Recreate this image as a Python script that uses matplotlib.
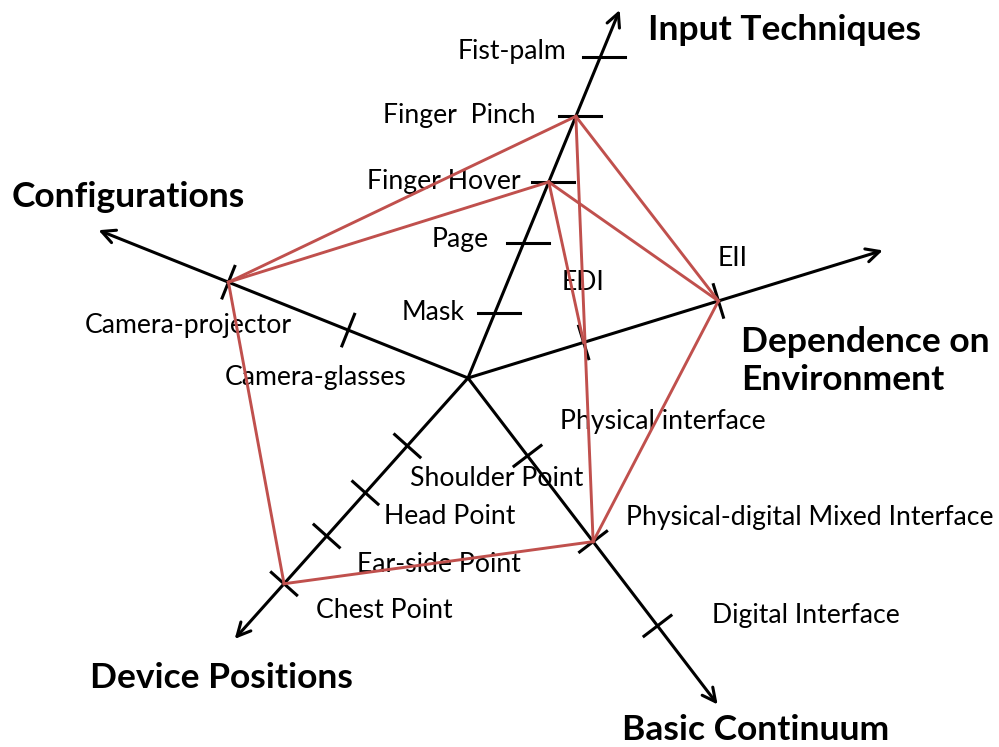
import numpy as np
import matplotlib.pyplot as plt

# axes of the diagram (angle in screen degrees, y pointing down)
axis_names = ["Input Techniques", "Configurations", "Dependence on\nEnvironment",
              "Basic Continuum", "Device Positions"]
axis_angles = [-67.6, -158.2, -17.1, 52.6, 131.8]
axis_lengths = [398, 398, 434, 411, 350]

# tick labels and their distance from the centre along each axis
input_labels = ["Mask", "Page", "Finger Hover", "Finger  Pinch", "Fist-palm"]
input_pos = [70, 146, 212, 283, 347]
config_labels = ["Camera-glasses", "Camera-projector"]
config_pos = [129, 258]
env_labels = ["EDI", "EII"]
env_pos = [121, 262]
basic_labels = ["Physical interface", "Physical-digital Mixed Interface", "Digital Interface"]
basic_pos = [98, 206, 312]
device_labels = ["Shoulder Point", "Head Point", "Ear-side Point", "Chest Point"]
device_pos = [91, 154, 212, 276]

# red connections between tick points
links = [("Finger  Pinch", "Camera-projector"),
         ("Finger Hover", "Camera-projector"),
         ("Finger  Pinch", "EII"),
         ("Finger Hover", "EII"),
         ("Finger Hover", "EDI"),
         ("Finger  Pinch", "Physical-digital Mixed Interface"),
         ("EII", "Physical-digital Mixed Interface"),
         ("Camera-projector", "Chest Point"),
         ("Chest Point", "Physical-digital Mixed Interface")]

all_labels = [input_labels, config_labels, env_labels, basic_labels, device_labels]
all_pos = [input_pos, config_pos, env_pos, basic_pos, device_pos]

cx, cy = 468, 378
red = "#c0504d"
font = "Lato"

fig = plt.figure(figsize=(9.99, 7.47), dpi=100)
ax = fig.add_axes([0, 0, 1, 1])
ax.set_xlim(0, 999)
ax.set_ylim(747, 0)
ax.axis("off")

points = {}
for i in range(5):
    a = np.radians(axis_angles[i])
    u = np.array([np.cos(a), np.sin(a)])
    n = np.array([-u[1], u[0]])
    tip = np.array([cx, cy]) + axis_lengths[i] * u
    ax.annotate("", xy=tip, xytext=(cx, cy),
                arrowprops=dict(arrowstyle="->", lw=2.2, color="black",
                                mutation_scale=24, shrinkA=0, shrinkB=0), zorder=3)
    for lab, d in zip(all_labels[i], all_pos[i]):
        p = np.array([cx, cy]) + d * u
        points[lab] = p
        if i == 0:
            # ticks of the first axis are horizontal
            ax.plot([p[0] - 17, p[0] + 25], [p[1], p[1]], color="black", lw=2.2, zorder=3)
        else:
            ax.plot([p[0] - 17 * n[0], p[0] + 17 * n[0]],
                    [p[1] - 17 * n[1], p[1] + 17 * n[1]], color="black", lw=2.2, zorder=3)

for a, b in links:
    ax.plot([points[a][0], points[b][0]], [points[a][1], points[b][1]],
            color=red, lw=2.1, zorder=4)

# tick label placement
label_xy = {"Fist-palm": (458, 52), "Finger  Pinch": (383, 116), "Finger Hover": (367, 182),
            "Page": (432, 240), "Mask": (402, 312), "Camera-projector": (85, 325),
            "Camera-glasses": (225, 378), "EDI": (562, 283), "EII": (718, 258),
            "Physical interface": (560, 421), "Shoulder Point": (410, 478),
            "Head Point": (384, 517), "Ear-side Point": (357, 565), "Chest Point": (316, 610),
            "Physical-digital Mixed Interface": (626, 518), "Digital Interface": (712, 616)}
for lab, (x, y) in label_xy.items():
    ax.text(x, y, lab, fontsize=19.2, family=font, ha="left", va="center", zorder=1)

title_xy = [(648, 30), (12, 197), (741, 361), (622, 730), (90, 678)]
for name, (x, y) in zip(axis_names, title_xy):
    ax.text(x, y, name, fontsize=25.5, family=font, fontweight="bold",
            ha="left", va="center", linespacing=1.2, zorder=1)

fig.savefig("out.png", dpi=100)
